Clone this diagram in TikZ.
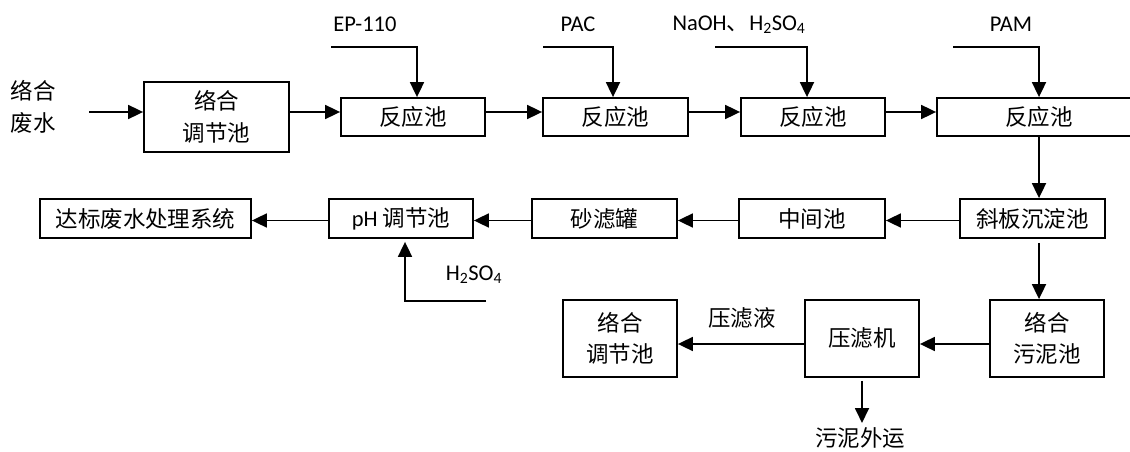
\documentclass[tikz,border=0pt]{standalone}
\usepackage{fontspec}
\setmainfont{Carlito}
\newfontfamily\cjk{Noto Sans CJK SC}
\usetikzlibrary{arrows.meta}
\begin{document}
\begin{tikzpicture}[x=1pt,y=-1pt,
  box/.style={draw, line width=1.8pt, inner sep=0pt, align=center,
    font=\cjk\fontsize{22.5}{31.5}\selectfont},
  rowa/.style={box, minimum height=38pt},
  rowb/.style={box, minimum height=39pt},
  rowc/.style={box, minimum height=77pt, minimum width=114pt},
  flow/.style={line width=1.8pt, -{Triangle[length=15pt,width=14pt]}},
  lbl/.style={inner sep=0pt, font=\fontsize{22.5}{31.5}\selectfont},
  clbl/.style={inner sep=0pt, align=center, font=\cjk\fontsize{22.5}{31.5}\selectfont},
]
\useasboundingbox (0,0) rectangle (1130,452);

% top row
\node[clbl] (src) at (33,107) {络合\\废水};
\node[box, minimum width=145pt, minimum height=70pt] (tj1) at (216.5,117) {络合\\调节池};
\node[rowa, minimum width=144pt] (r1) at (413,117) {反应池};
\node[rowa, minimum width=145pt] (r2) at (615.5,117) {反应池};
\node[rowa, minimum width=144pt] (r3) at (813,117) {反应池};
\node[rowa, minimum width=204pt] (r4) at (1039,117) {反应池};

\node[lbl] (ep) at (365,24) {EP-110};
\node[lbl] (pac) at (578,24) {PAC};
\node[lbl] (naoh) at (739,25) {NaOH{\cjk 、}H\textsubscript{2}SO\textsubscript{4}};
\node[lbl] (pam) at (1011,24) {PAM};

\coordinate (in0) at (89,112);
\coordinate (f1) at (331,47);
\coordinate (f2) at (543,47);
\coordinate (f3) at (715,47);
\coordinate (f4) at (953,47);

\draw[flow] (in0) -- (in0 -| tj1.west);
\draw[flow] ([yshift=5pt]tj1.east) -- ([yshift=5pt]r1.west);
\draw[flow] ([yshift=5pt]r1.east) -- ([yshift=5pt]r2.west);
\draw[flow] ([yshift=5pt]r2.east) -- ([yshift=5pt]r3.west);
\draw[flow] ([yshift=5pt]r3.east) -- ([yshift=5pt]r4.west);

\draw[flow] (f1) -| ([xshift=4pt]r1.north);
\draw[flow] (f2) -| ([xshift=-2.5pt]r2.north);
\draw[flow] (f3) -| ([xshift=-6pt]r3.north);
\draw[flow] (f4) -| (r4.north);

% middle row
\node[rowb, minimum width=145pt] (xb) at (1032.5,218.5) {斜板沉淀池};
\node[rowb, minimum width=146pt] (zj) at (812,218.5) {中间池};
\node[rowb, minimum width=145pt] (sl) at (604.5,218.5) {砂滤罐};
\node[rowb, minimum width=144pt] (ph) at (401,218.5) {\rmfamily pH {\cjk 调节池}};
\node[rowb, minimum width=211pt] (db) at (145.5,218.5) {达标废水处理系统};

\draw[flow] (r4.south) -- (r4.south |- xb.north);
\draw[flow] ([yshift=-2pt]xb.west) -- ([yshift=-2pt]zj.east);
\draw[flow] ([yshift=-2pt]zj.west) -- ([yshift=-2pt]sl.east);
\draw[flow] ([yshift=-2pt]sl.west) -- ([yshift=-2pt]ph.east);
\draw[flow] ([yshift=-2pt]ph.west) -- ([yshift=-2pt]db.east);

\coordinate (hs) at (486,301);
\node[lbl] (h2so4) at (474,275) {H\textsubscript{2}SO\textsubscript{4}};
\draw[flow, shorten >=3pt] (hs) -| ([xshift=4pt]ph.south);

% bottom row
\node[rowc] (wnc) at (1047,338.5) {络合\\污泥池};
\node[rowc] (ylj) at (862,338.5) {压滤机};
\node[rowc] (tj2) at (620,338.5) {络合\\调节池};

\draw[flow, shorten <=4pt] (r4.south |- xb.south) -- (r4.south |- wnc.north);
\draw[flow] ([yshift=-5.5pt]wnc.west) -- ([yshift=-5.5pt]ylj.east);
\draw[flow] ([yshift=-5.5pt]ylj.west) -- ([yshift=-5.5pt]tj2.east);
\node[clbl] (ylye) at (742,318) {压滤液};

\coordinate (out) at (862,423);
\draw[flow, shorten <=3pt] (ylj.south) -- (out);
\node[clbl] (wnwy) at (860,438) {污泥外运};
\end{tikzpicture}
\end{document}
